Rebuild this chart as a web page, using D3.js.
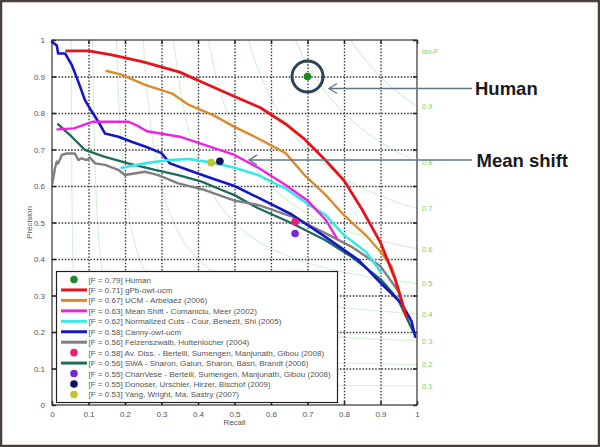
<!DOCTYPE html>
<html><head><meta charset="utf-8">
<script src="https://cdn.jsdelivr.net/npm/d3@7"></script>
<style>body{margin:0;background:#fff}svg{display:block}</style>
</head><body>
<svg id="c" width="600" height="447"></svg>
<script>
// ---------- data ----------
const xTicks = [0,0.1,0.2,0.3,0.4,0.5,0.6,0.7,0.8,0.9,1];
const yTicks = [0,0.1,0.2,0.3,0.4,0.5,0.6,0.7,0.8,0.9,1];
const gridTicks = [0.1,0.2,0.3,0.4,0.5,0.6,0.7,0.8,0.9];
const xTickLabels = ["0","0.1","0.2","0.3","0.4","0.5","0.6","0.7","0.8","0.9","1"];
const yTickLabels = ["0","0.1","0.2","0.3","0.4","0.5","0.6","0.7","0.8","0.9","1"];
const isoF = [0.1,0.2,0.3,0.4,0.5,0.6,0.7,0.8,0.9];
const isoLabels = ["0.1","0.2","0.3","0.4","0.5","0.6","0.7","0.8","0.9"];

const gpb = [[0.04,0.97],[0.1,0.97],[0.16,0.96],[0.25,0.94],[0.35,0.912],[0.41,0.885],[0.5,0.845],[0.57,0.815],[0.64,0.77],[0.69,0.73],[0.75,0.67],[0.8,0.615],[0.85,0.535],[0.9,0.445],[0.94,0.345],[0.97,0.245]];
const ucm = [[0.15,0.915],[0.19,0.905],[0.255,0.877],[0.33,0.853],[0.375,0.822],[0.44,0.795],[0.5,0.762],[0.565,0.73],[0.64,0.69],[0.69,0.632],[0.75,0.575],[0.8,0.52],[0.86,0.465],[0.9,0.42],[0.93,0.38],[0.955,0.3],[0.965,0.26]];
const meanShift = [[0.015,0.755],[0.06,0.758],[0.11,0.776],[0.21,0.776],[0.23,0.767],[0.26,0.75],[0.35,0.735],[0.42,0.712],[0.5,0.685],[0.565,0.65],[0.64,0.603],[0.7,0.56],[0.75,0.507],[0.78,0.457]];
const ncuts = [[0.19,0.65],[0.255,0.662],[0.32,0.671],[0.375,0.674],[0.44,0.664],[0.5,0.65],[0.565,0.63],[0.64,0.593],[0.71,0.545],[0.75,0.52],[0.8,0.465],[0.86,0.42],[0.9,0.365]];
const canny = [[0,0.995],[0.013,0.985],[0.017,0.963],[0.036,0.963],[0.054,0.932],[0.072,0.886],[0.09,0.836],[0.109,0.804],[0.127,0.776],[0.145,0.744],[0.182,0.735],[0.218,0.721],[0.255,0.708],[0.3,0.69],[0.323,0.662],[0.373,0.644],[0.437,0.621],[0.5,0.6],[0.565,0.568],[0.657,0.522],[0.75,0.46],[0.84,0.397],[0.9,0.335],[0.958,0.278],[0.985,0.23],[0.995,0.187]];
const felz = [[0.001,0.607],[0.008,0.648],[0.013,0.667],[0.017,0.662],[0.027,0.685],[0.04,0.689],[0.063,0.689],[0.072,0.671],[0.081,0.676],[0.095,0.671],[0.104,0.678],[0.118,0.662],[0.145,0.658],[0.182,0.644],[0.2,0.63],[0.255,0.639],[0.291,0.63],[0.346,0.607],[0.419,0.589],[0.5,0.56],[0.565,0.548],[0.657,0.516],[0.75,0.47],[0.82,0.434],[0.9,0.38],[0.95,0.31]];
const swa = [[0.017,0.769],[0.054,0.735],[0.09,0.699],[0.145,0.68],[0.209,0.662],[0.282,0.644],[0.346,0.63],[0.41,0.612],[0.465,0.589],[0.5,0.575],[0.565,0.539],[0.657,0.498],[0.748,0.452],[0.821,0.406],[0.903,0.342],[0.949,0.288],[0.99,0.2]];

const humanPt = [0.7,0.9];
const avDissPt = [0.666,0.502];
const chanVesePt = [0.666,0.47];
const donoserPt = [0.46,0.668];
const yangPt = [0.436,0.664];

const legendNames = [
 "[F = 0.79] Human",
 "[F = 0.71] gPb-owt-ucm",
 "[F = 0.67] UCM - Arbelaez (2006)",
 "[F = 0.63] Mean Shift - Comaniciu, Meer (2002)",
 "[F = 0.62] Normalized Cuts - Cour, Benezit, Shi (2005)",
 "[F = 0.58] Canny-owt-ucm",
 "[F = 0.56] Felzenszwalb, Huttenlocher (2004)",
 "[F = 0.58] Av. Diss. - Bertelli, Sumengen, Manjunath, Gibou (2008)",
 "[F = 0.56] SWA - Sharon, Galun, Sharon, Basri, Brandt (2006)",
 "[F = 0.55] ChanVese - Bertelli, Sumengen, Manjunath, Gibou (2008)",
 "[F = 0.55] Donoser, Urschler, Hirzer, Bischof (2009)",
 "[F = 0.53] Yang, Wright, Ma, Sastry (2007)"
];
const legendKinds = ["dot","line","line","line","line","line","line","dot","line","dot","dot","dot"];
const legendColors = ["#1d8a24","#e8121c","#dd8a2a","#ee22e0","#3ae6e6","#1616c8","#808080","#e8207a","#1f6b5c","#7a26d8","#10105e","#c4c42c"];

// ---------- drawing ----------
const svg = d3.select("#c");
const x = d3.scaleLinear().domain([0,1]).range([52,417]);
const y = d3.scaleLinear().domain([0,1]).range([405,40]);
const fontAx = "Liberation Sans, Arial, sans-serif";
const W = x(1)-x(0), H = y(0)-y(1);

// outer frame
svg.append("rect").attr("x",1).attr("y",1).attr("width",598).attr("height",445)
  .attr("fill","#fff").attr("stroke","#4a403b").attr("stroke-width",2.5);

svg.append("defs").append("clipPath").attr("id","clip")
  .append("rect").attr("x",x(0)).attr("y",y(1)).attr("width",W).attr("height",H);

// iso-F contours
const isoG = svg.append("g").attr("clip-path","url(#clip)");
isoF.forEach(f=>{
  const cpts = d3.range(0,401).map(i=>{
    const r = f/2 + (1-f/2)*Math.pow(i/400,2) + 1e-4;
    return [r, f*r/(2*r-f)];
  }).filter(d=>d[1] <= 1.6);
  isoG.append("path").datum(cpts)
    .attr("fill","none").attr("stroke","#d2f2d2").attr("stroke-width",1.1)
    .attr("d", d3.line().x(d=>x(d[0])).y(d=>y(Math.min(d[1],1.6))));
});
svg.selectAll(".isol").data(isoF).enter().append("text")
  .attr("x",x(1)+5).attr("y",f=>y(f/(2-f))+3)
  .attr("font-family",fontAx).attr("font-size",7.5)
  .attr("fill","#6bd86b").text((f,i)=>isoLabels[i]);
svg.append("text").attr("x",x(1)+5).attr("y",y(0.97)+3)
  .attr("font-family",fontAx).attr("font-size",7.5)
  .attr("fill","#6bd86b").text("iso-F");

// grid via d3 axes with full-length ticks
const gridX = svg.append("g").attr("transform",`translate(0,${y(0)})`)
  .call(d3.axisBottom(x).tickValues(gridTicks).tickSize(-H).tickFormat(""));
const gridY = svg.append("g").attr("transform",`translate(${x(0)},0)`)
  .call(d3.axisLeft(y).tickValues(gridTicks).tickSize(-W).tickFormat(""));
[gridX,gridY].forEach(g=>{
  g.select(".domain").remove();
  g.selectAll(".tick line").attr("stroke","#333").attr("stroke-width",1.3)
    .attr("stroke-dasharray","1.5,1.7");
});

// axes
const xAxis = d3.axisBottom(x).tickValues(xTicks).tickFormat((d,i)=>xTickLabels[i]).tickSizeInner(-4).tickSizeOuter(0).tickPadding(6);
const yAxis = d3.axisLeft(y).tickValues(yTicks).tickFormat((d,i)=>yTickLabels[i]).tickSizeInner(-4).tickSizeOuter(0).tickPadding(7);
const gx = svg.append("g").attr("transform",`translate(0,${y(0)})`).call(xAxis);
const gy = svg.append("g").attr("transform",`translate(${x(0)},0)`).call(yAxis);
const gx2 = svg.append("g").attr("transform",`translate(0,${y(1)})`).call(d3.axisTop(x).tickValues(xTicks).tickFormat("").tickSizeInner(-4).tickSizeOuter(0));
const gy2 = svg.append("g").attr("transform",`translate(${x(1)},0)`).call(d3.axisRight(y).tickValues(yTicks).tickFormat("").tickSizeInner(-4).tickSizeOuter(0));
[gx,gy,gx2,gy2].forEach(g=>{
  g.select(".domain").remove();
  g.selectAll(".tick line").attr("stroke","#222").attr("stroke-width",1.5);
  g.selectAll("text").attr("font-family",fontAx).attr("font-size",8).attr("fill","#555");
});
svg.append("rect").attr("x",x(0)).attr("y",y(1)).attr("width",W).attr("height",H)
  .attr("fill","none").attr("stroke","#333").attr("stroke-width",1.2);

svg.append("text").attr("x",(x(0)+x(1))/2).attr("y",425).attr("text-anchor","middle")
  .attr("font-family",fontAx).attr("font-size",8).attr("fill","#555").text("Recall");
svg.append("text").attr("transform",`translate(32,${y(0.5)}) rotate(-90)`).attr("text-anchor","middle")
  .attr("font-family",fontAx).attr("font-size",8).attr("fill","#555").text("Precision");

// curves
const lineGen = d3.line().x(d=>x(d[0])).y(d=>y(d[1])).curve(d3.curveLinear);
const curves = [
  [swa, legendColors[8], 2.4],
  [felz, legendColors[6], 2.4],
  [canny, legendColors[5], 2.6],
  [ncuts, legendColors[4], 2.6],
  [meanShift, legendColors[3], 2.4],
  [ucm, legendColors[2], 2.4],
  [gpb, legendColors[1], 2.8]
];
const cg = svg.append("g");
curves.forEach(([data,col,w])=>{
  cg.append("path").datum(data).attr("fill","none").attr("stroke",col)
    .attr("stroke-width",w).attr("stroke-linejoin","round").attr("stroke-linecap","round").attr("d",lineGen);
});

// points
const ptList = [[humanPt,legendColors[0]],[avDissPt,legendColors[7]],[chanVesePt,legendColors[9]],[yangPt,legendColors[11]],[donoserPt,legendColors[10]]];
ptList.forEach(([p,c])=>{
  svg.append("circle").attr("cx",x(p[0])).attr("cy",y(p[1])).attr("r",3.8).attr("fill",c);
});

// legend
const lg = svg.append("g");
lg.append("rect").attr("x",56.5).attr("y",271.5).attr("width",281).attr("height",131)
  .attr("fill","#fff").attr("stroke","#222").attr("stroke-width",1.2);
legendNames.forEach((n,i)=>{
  const yy = 279.5 + i*10.45;
  if(legendKinds[i]==="dot"){
    lg.append("circle").attr("cx",74).attr("cy",yy).attr("r",3.8).attr("fill",legendColors[i]);
  } else {
    lg.append("line").attr("x1",61).attr("x2",87).attr("y1",yy).attr("y2",yy)
      .attr("stroke",legendColors[i]).attr("stroke-width",3);
  }
  lg.append("text").attr("x",88.5).attr("y",yy+3).attr("font-family",fontAx)
    .attr("font-size",8.05).attr("fill","#555").text(n);
});

// annotations
const ann = svg.append("g");
ann.append("circle").attr("cx",x(humanPt[0])).attr("cy",y(humanPt[1])).attr("r",15.5)
  .attr("fill","none").attr("stroke","#2c4457").attr("stroke-width",3);
function arrow(x1,x2,yy){
  ann.append("line").attr("x1",x1).attr("x2",x2).attr("y1",yy).attr("y2",yy)
    .attr("stroke","#5f7585").attr("stroke-width",1.3);
  ann.append("path").attr("d",`M${x1+8},${yy-5}L${x1},${yy}L${x1+8},${yy+5}`)
    .attr("fill","none").attr("stroke","#5f7585").attr("stroke-width",1.3);
}
arrow(329,472,88.5);
arrow(249,472,160);
ann.append("text").attr("x",475).attr("y",94.5).attr("font-family",fontAx).attr("font-weight","bold")
  .attr("font-size",18.5).attr("fill","#1a1a1a").text("Human");
ann.append("text").attr("x",476.5).attr("y",166.5).attr("font-family",fontAx).attr("font-weight","bold")
  .attr("font-size",18.5).attr("fill","#1a1a1a").text("Mean shift");
</script>
</body></html>
